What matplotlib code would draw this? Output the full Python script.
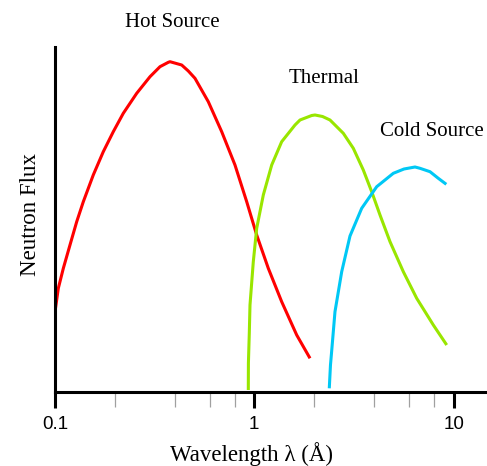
import matplotlib
matplotlib.use("Agg")
import matplotlib.pyplot as plt
from matplotlib.ticker import FixedLocator, NullFormatter

# Data (wavelength in Angstrom, flux in arbitrary units)
hot_wl = [0.1000, 0.1039, 0.1101, 0.1189, 0.1285, 0.1387, 0.1556, 0.1747, 0.1961,
          0.2201, 0.2570, 0.2997, 0.3363, 0.3703, 0.3776, 0.4322, 0.4665, 0.5039, 0.5877,
          0.6862, 0.8000, 0.9160, 1.0281, 1.1755, 1.3721, 1.6320, 1.9034]
hot_flux = [80, 103.7, 123.7, 147, 170.3, 190.3, 217, 240.3, 260.3,
            278.7, 298.7, 315.3, 325.3, 329.7, 330.3, 327, 321, 313.7, 290.3,
            260.3, 227, 190.3, 157, 123.7, 90.3, 57, 33.7]

thermal_wl = [0.9331, 0.9342, 0.9439, 0.9515, 0.9885, 1.0281, 1.1096, 1.2228, 1.3721,
              1.6003, 1.6958, 1.9411, 2.0163, 2.2, 2.398, 2.797, 3.139, 3.523, 3.882,
              4.273, 4.797, 5.594, 6.529, 7.911, 9.234]
thermal_flux = [2, 29, 59, 87, 130.3, 163.7, 197, 227, 250.3,
                267, 272, 276.5, 277, 275.5, 272, 258.7, 243.7, 222, 200.3,
                177, 150.3, 120.3, 93.7, 67, 47]

cold_wl = [2.378, 2.411, 2.445, 2.540, 2.745, 3.021, 3.458, 4.113, 4.983,
           5.638, 6.402, 6.783, 7.615, 8.378, 9.191]
cold_flux = [3.7, 27, 41, 80.3, 120.3, 156, 183.7, 205.3, 218.7,
             223, 225, 223.7, 220.3, 213.7, 207.7]

major_ticks = [0.1, 1, 10]
major_labels = ["0.1", "1", "10"]
minor_ticks = [0.2, 0.4, 0.6, 0.8, 2, 4, 6, 8]

W, H = 487, 466
fig = plt.figure(figsize=(W / 100, H / 100), dpi=100)
ax = fig.add_axes([55 / W, (H - 392) / H, (W - 55) / W, 345 / H])

lw = 2.2
ax.plot(hot_wl, hot_flux, color="#ff0000", lw=lw, solid_capstyle="butt", solid_joinstyle="round")
ax.plot(thermal_wl, thermal_flux, color="#99e600", lw=lw, solid_capstyle="butt", solid_joinstyle="round")
ax.plot(cold_wl, cold_flux, color="#00c8f5", lw=lw, solid_capstyle="butt", solid_joinstyle="round")

ax.set_xscale("log")
ax.set_xlim(0.1, 10 ** (-1 + 432 / 199.3))
ax.set_ylim(0, 345)

for s in ["top", "right"]:
    ax.spines[s].set_visible(False)
for s in ["left", "bottom"]:
    ax.spines[s].set_linewidth(2.2)
    ax.spines[s].set_color("black")

ax.set_yticks([])
ax.xaxis.set_major_locator(FixedLocator(major_ticks))
ax.set_xticklabels(major_labels, family="Liberation Sans", fontsize=13.5)
ax.xaxis.set_minor_locator(FixedLocator(minor_ticks))
ax.xaxis.set_minor_formatter(NullFormatter())
ax.tick_params(axis="x", which="major", length=11.5, width=2.2, color="black", pad=5.5)
ax.tick_params(axis="x", which="minor", length=10.5, width=0.9, color="#a0a0a0")
for t, v in zip(ax.xaxis.get_minor_ticks(), minor_ticks):
    if v in (0.2, 2):
        t.tick1line.set_color("#505050")

serif = "Liberation Serif"
fig.text(252 / W, (H - 461) / H, "Wavelength λ (Å)", family=serif, fontsize=16.5,
         ha="center", va="baseline")
fig.text(36 / W, (H - 214) / H, "Neutron Flux", family=serif, fontsize=16.5,
         ha="center", va="baseline", rotation=90, rotation_mode="anchor")

fig.text(172.5 / W, (H - 27) / H, "Hot Source", family=serif, fontsize=15,
         ha="center", va="baseline")
fig.text(324 / W, (H - 83) / H, "Thermal", family=serif, fontsize=15,
         ha="center", va="baseline")
fig.text(432 / W, (H - 136) / H, "Cold Source", family=serif, fontsize=15,
         ha="center", va="baseline")

fig.savefig("out.png", dpi=100)
